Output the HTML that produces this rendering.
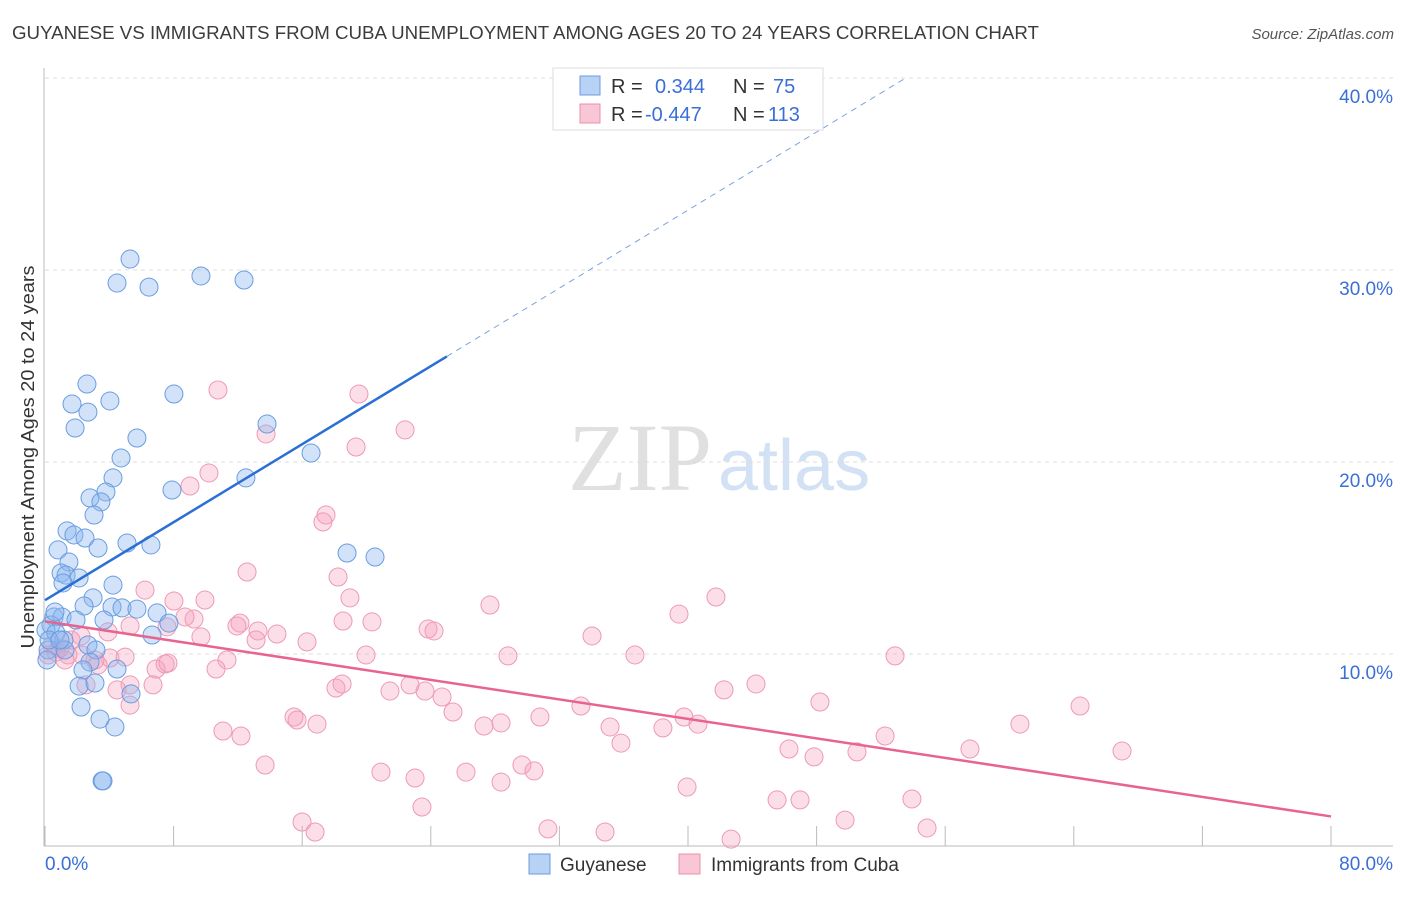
<!DOCTYPE html>
<html><head><meta charset="utf-8"><style>
body{margin:0;background:#fff;font-family:"Liberation Sans",sans-serif;}
</style></head><body>
<svg id="chart" width="1406" height="892" xmlns="http://www.w3.org/2000/svg">
<text x="12" y="39" font-size="18" fill="#3c3c3c" textLength="1027" lengthAdjust="spacingAndGlyphs">GUYANESE VS IMMIGRANTS FROM CUBA UNEMPLOYMENT AMONG AGES 20 TO 24 YEARS CORRELATION CHART</text>
<text x="1394" y="39" font-size="15" fill="#555" font-style="italic" text-anchor="end">Source: ZipAtlas.com</text>
<text transform="translate(34,457) rotate(-90)" font-size="18" fill="#333" text-anchor="middle" textLength="383" lengthAdjust="spacingAndGlyphs">Unemployment Among Ages 20 to 24 years</text>
<text x="712" y="490" font-size="96" fill="#e0e0e0" text-anchor="end" font-family="Liberation Serif,serif">ZIP</text>
<text x="718" y="490" font-size="72" fill="#d2e1f4">atlas</text>
<g id="grid"></g><g id="pts"></g><g id="lines"></g>
<g>
<rect x="553" y="68" width="270" height="62" fill="#fff" stroke="#ddd"/>
<rect x="580" y="76" width="20" height="19" fill="#b8d2f5" stroke="#6d9be0"/>
<rect x="580" y="104" width="20" height="19" fill="#f9c6d5" stroke="#ec8fac"/>
<text x="611" y="93" font-size="20" fill="#333">R =</text><text x="655" y="93" font-size="20" fill="#3a6fd6">0.344</text>
<text x="733" y="93" font-size="20" fill="#333">N =</text><text x="773" y="93" font-size="20" fill="#3a6fd6">75</text>
<text x="611" y="121" font-size="20" fill="#333">R =</text><text x="645" y="121" font-size="20" fill="#3a6fd6">-0.447</text>
<text x="733" y="121" font-size="20" fill="#333">N =</text><text x="768" y="121" font-size="20" fill="#3a6fd6">113</text>
</g>
<g>
<rect x="529" y="854" width="21" height="20" fill="#b8d2f5" stroke="#6d9be0"/>
<text x="560" y="871" font-size="19" fill="#333">Guyanese</text>
<rect x="679" y="854" width="21" height="20" fill="#f9c6d5" stroke="#ec8fac"/>
<text x="711" y="871" font-size="19" fill="#333">Immigrants from Cuba</text>
</g>
</svg>
<script>
const xTicks=[0,8,16,24,32,40,48,56,64,72,80];
const yTicks=[10,20,30,40];
const blueX=[5.29,4.48,6.47,9.70,12.38,2.61,1.68,2.67,4.04,1.87,8.02,13.81,5.72,4.73,16.55,4.23,12.50,7.90,3.79,2.80,3.48,3.05,1.37,1.80,2.49,3.30,5.10,6.59,0.81,18.79,20.53,1.49,1.00,1.31,2.12,1.12,4.23,2.99,2.43,4.17,4.79,5.72,6.97,0.56,1.06,0.37,0.06,0.68,1.18,6.66,3.67,7.71,1.24,0.19,2.67,3.17,4.48,2.80,2.36,2.12,3.11,5.35,2.24,3.42,4.35,3.55,3.61,0.25,0.93,0.12,0.62,1.93];
const blueY=[30.57,29.32,29.11,29.69,29.48,24.06,23.02,22.60,23.18,21.77,23.54,21.98,21.25,20.21,20.47,19.17,19.17,18.54,18.44,18.13,17.92,17.24,16.41,16.20,16.04,15.52,15.78,15.68,15.42,15.26,15.05,14.79,14.22,14.11,13.96,13.70,13.59,12.92,12.50,12.45,12.40,12.34,12.14,11.93,11.93,11.51,11.25,11.09,10.73,10.99,11.77,11.61,10.21,10.21,10.47,10.21,9.22,9.58,9.17,8.33,8.49,7.92,7.24,6.61,6.20,3.39,3.39,10.73,10.73,9.69,12.19,11.77];
const pinkX=[10.76,19.53,13.75,22.40,19.35,10.20,9.02,17.48,17.29,18.23,12.57,6.22,18.97,8.02,9.95,27.68,39.44,41.74,12.13,13.25,9.27,8.71,5.29,7.59,11.94,13.13,14.43,16.30,18.54,20.34,23.83,24.20,34.03,11.32,28.80,36.70,52.88,19.97,9.70,3.92,2.24,4.04,3.30,4.98,6.91,7.47,10.64,18.10,18.48,21.46,22.71,23.64,24.70,25.38,27.31,28.37,30.79,33.34,35.15,35.83,38.44,39.75,40.62,42.24,44.23,48.21,50.51,52.26,46.28,47.84,57.54,60.65,64.39,67.00,15.49,15.68,16.92,11.07,12.19,13.69,20.90,23.02,26.19,28.37,29.67,30.42,23.45,39.94,45.54,46.97,53.93,15.99,16.80,31.29,34.84,42.68,49.77,54.87,0.44,0.68,0.93,1.43,0.19,1.62,3.11,5.29,6.72,4.48,5.29,7.65,2.30,1.24,2.55];
const pinkY=[23.75,23.54,21.46,21.67,20.78,19.43,18.75,17.24,16.88,14.01,14.27,13.33,12.92,12.76,12.81,12.55,12.08,12.97,11.61,11.20,11.82,11.93,11.46,11.41,11.46,10.73,11.04,10.63,11.72,11.67,11.30,11.20,10.94,9.69,9.90,9.95,9.90,9.95,10.89,11.15,10.94,9.79,9.43,9.84,9.22,9.48,9.22,8.23,8.44,8.07,8.39,8.07,7.76,6.98,6.25,6.41,6.72,7.29,6.20,5.36,6.15,6.72,6.35,8.13,8.44,7.50,4.90,5.73,5.05,4.64,5.05,6.35,7.29,4.95,6.72,6.56,6.35,5.99,5.73,4.22,3.85,3.54,3.85,3.33,4.22,3.91,2.03,3.07,2.40,2.40,2.45,1.25,0.73,0.89,0.73,0.36,1.35,0.94,10.47,10.10,10.31,9.95,9.95,10.73,9.69,8.39,8.39,8.13,7.34,9.53,9.95,9.69,8.39];
const blueFit=[12.8,0.508];
const pinkFit=[11.7,-0.127];
const X=v=>45+v*16.075, Y=v=>846-v*19.2;
const NS='http://www.w3.org/2000/svg';
function mk(t,a,p){const e=document.createElementNS(NS,t);for(const k in a)e.setAttribute(k,a[k]);p.appendChild(e);return e;}
const grid=document.getElementById('grid');
mk('line',{x1:44,y1:68,x2:44,y2:846,stroke:'#bbb'},grid);
mk('line',{x1:44,y1:846,x2:1393,y2:846,stroke:'#bbb'},grid);
yTicks.forEach(t=>{
 const l=mk('line',{x1:45,y1:Y(t),x2:1393,y2:Y(t),stroke:'#ddd','stroke-dasharray':'4,4'},grid);
 
 
 const tx=mk('text',{x:1393,y:Y(t)+25,'font-size':19,fill:'#3a6fd6','text-anchor':'end'},grid);
 tx.textContent=t.toFixed(1)+'%';
 
 
});
xTicks.forEach(t=>{
 const l=mk('line',{x1:X(t),y1:826,x2:X(t),y2:846,stroke:'#bbb'},grid);
 
 
});
[[0,'start',45],[80,'end',1393]].forEach(([t,a,x])=>{
 const tx=mk('text',{x:x,y:870,'font-size':19,fill:'#3a6fd6','text-anchor':a},grid);
 tx.textContent=t.toFixed(1)+'%';
 
 
});
const pts=document.getElementById('pts');
pinkX.forEach((v,i)=>{
 const c=mk('circle',{cx:X(v),cy:Y(pinkY[i]),r:9,fill:'rgba(246,160,188,0.35)',stroke:'#ee9ab4','stroke-width':1},pts);
 
 
});
blueX.forEach((v,i)=>{
 const c=mk('circle',{cx:X(v),cy:Y(blueY[i]),r:9,fill:'rgba(140,182,240,0.4)',stroke:'#6a9de0','stroke-width':1},pts);
 
 
});
const lines=document.getElementById('lines');
const bEnd=(40-blueFit[0])/blueFit[1];
let l1=mk('line',{x1:X(0),y1:Y(blueFit[0]),x2:X(25),y2:Y(blueFit[0]+blueFit[1]*25),stroke:'#2a6fd4','stroke-width':2.5},lines);


let l2=mk('line',{x1:X(25),y1:Y(blueFit[0]+blueFit[1]*25),x2:X(bEnd),y2:Y(40),stroke:'#7aa3e0','stroke-width':1,'stroke-dasharray':'6,5'},lines);


let l3=mk('line',{x1:X(0),y1:Y(pinkFit[0]),x2:X(80),y2:Y(pinkFit[0]+pinkFit[1]*80),stroke:'#e8648f','stroke-width':2.5},lines);


</script>
</body></html>
